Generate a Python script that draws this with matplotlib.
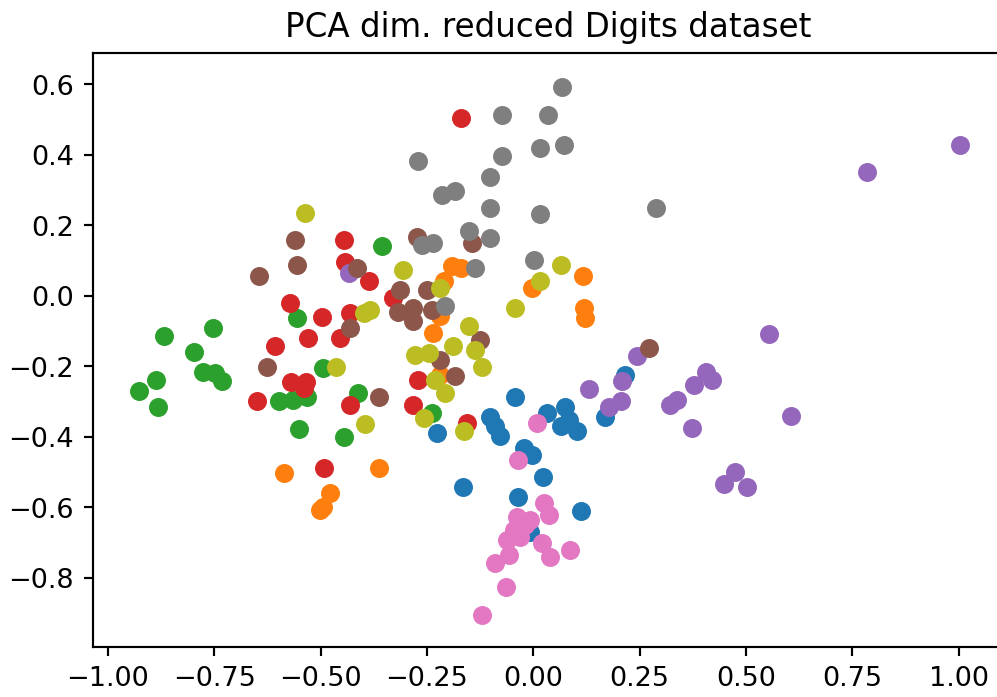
import numpy as np
import matplotlib
matplotlib.use("Agg")
import matplotlib.pyplot as plt

# PCA coordinates per digit class
digit_0 = [(-0.227, -0.390), (-0.101, -0.343), (-0.089, -0.371), (-0.078, -0.399),
           (-0.042, -0.286), (0.032, -0.333), (0.075, -0.315), (0.064, -0.371),
           (0.103, -0.385), (0.083, -0.352), (0.169, -0.343), (0.216, -0.224),
           (-0.023, -0.433), (-0.003, -0.452), (0.023, -0.514), (-0.035, -0.570),
           (0.112, -0.611), (-0.166, -0.542), (-0.007, -0.670)]
digit_1 = [(-0.190, 0.085), (-0.170, 0.080), (-0.211, 0.041), (0.117, 0.055),
           (-0.003, 0.022), (0.120, -0.035), (0.122, -0.063), (-0.219, -0.058),
           (-0.235, -0.106), (-0.219, -0.224), (-0.586, -0.504), (-0.362, -0.488),
           (-0.479, -0.559), (-0.501, -0.608), (-0.494, -0.599)]
digit_2 = [(-0.355, 0.142), (-0.555, -0.063), (-0.868, -0.114), (-0.754, -0.092),
           (-0.797, -0.159), (-0.776, -0.215), (-0.748, -0.220), (-0.732, -0.243),
           (-0.888, -0.239), (-0.927, -0.270), (-0.882, -0.317), (-0.599, -0.300),
           (-0.564, -0.295), (-0.532, -0.286), (-0.495, -0.205), (-0.411, -0.277),
           (-0.550, -0.379), (-0.446, -0.401), (-0.238, -0.333)]
digit_3 = [(-0.170, 0.505), (-0.446, 0.157), (-0.442, 0.097), (-0.387, 0.041),
           (-0.573, -0.021), (-0.497, -0.061), (-0.431, -0.049), (-0.454, -0.120),
           (-0.529, -0.120), (-0.607, -0.144), (-0.570, -0.245), (-0.535, -0.245),
           (-0.540, -0.262), (-0.650, -0.300), (-0.432, -0.310), (-0.491, -0.488),
           (-0.329, -0.007), (-0.270, -0.239), (-0.282, -0.310), (-0.156, -0.362)]
digit_4 = [(1.003, 0.427), (0.785, 0.351), (0.555, -0.108), (-0.434, 0.064),
           (0.244, -0.172), (0.209, -0.243), (0.130, -0.265), (0.205, -0.300),
           (0.177, -0.315), (0.338, -0.295), (0.322, -0.310), (0.377, -0.253),
           (0.405, -0.215), (0.420, -0.239), (0.606, -0.341), (0.373, -0.376),
           (0.475, -0.499), (0.448, -0.534), (0.503, -0.542)]
digit_5 = [(-0.560, 0.157), (-0.555, 0.088), (-0.644, 0.055), (-0.415, 0.079),
           (-0.274, 0.168), (-0.144, 0.150), (-0.313, 0.017), (-0.250, 0.017),
           (-0.317, -0.045), (-0.282, -0.035), (-0.282, -0.073), (-0.238, -0.040),
           (-0.125, -0.125), (-0.219, -0.182), (-0.184, -0.229), (-0.431, -0.092),
           (-0.625, -0.201), (-0.362, -0.286), (0.271, -0.148)]
digit_6 = [(0.009, -0.362), (-0.035, -0.466), (0.024, -0.589), (0.036, -0.622),
           (-0.007, -0.636), (-0.038, -0.627), (-0.046, -0.665), (-0.062, -0.693),
           (-0.031, -0.684), (-0.058, -0.736), (-0.089, -0.759), (0.020, -0.703),
           (0.040, -0.741), (0.087, -0.722), (-0.064, -0.828), (-0.121, -0.906),
           (-0.020, -0.650)]
digit_7 = [(0.067, 0.593), (-0.074, 0.514), (0.035, 0.514), (-0.272, 0.382),
           (-0.074, 0.396), (0.016, 0.420), (0.071, 0.429), (-0.101, 0.337),
           (-0.215, 0.287), (-0.184, 0.296), (-0.101, 0.249), (0.016, 0.233),
           (0.289, 0.249), (-0.262, 0.145), (-0.235, 0.150), (-0.152, 0.183),
           (-0.101, 0.164), (0.002, 0.102), (-0.136, 0.079), (-0.207, -0.030)]
digit_8 = [(-0.536, 0.236), (-0.307, 0.072), (0.066, 0.088), (0.016, 0.041),
           (-0.042, -0.035), (-0.219, 0.022), (-0.384, -0.040), (-0.399, -0.049),
           (-0.152, -0.087), (-0.188, -0.143), (-0.136, -0.153), (-0.278, -0.168),
           (-0.246, -0.163), (-0.121, -0.201), (-0.231, -0.239), (-0.207, -0.276),
           (-0.258, -0.348), (-0.164, -0.385), (-0.464, -0.201), (-0.395, -0.364)]

classes = [digit_0, digit_1, digit_2, digit_3, digit_4,
           digit_5, digit_6, digit_7, digit_8]

dpi = 195
fig = plt.figure(figsize=(997.4 / dpi, 697.4 / dpi), dpi=dpi)
# the original screenshot cuts off the right edge of the axes
ax = fig.add_axes([0.0933, 0.0717, 0.9120, 0.8522])

for pts in classes:
    arr = np.array(pts)
    ax.scatter(arr[:, 0], arr[:, 1])

ax.set_xlim(-1.035, 1.1035)
ax.set_ylim(-0.997, 0.690)
ax.set_xticks(np.arange(-1.0, 1.01, 0.25))
ax.set_yticks(np.arange(-0.8, 0.61, 0.2))
ax.set_title('PCA dim. reduced Digits dataset')

fig.savefig('out.png', dpi=dpi)
